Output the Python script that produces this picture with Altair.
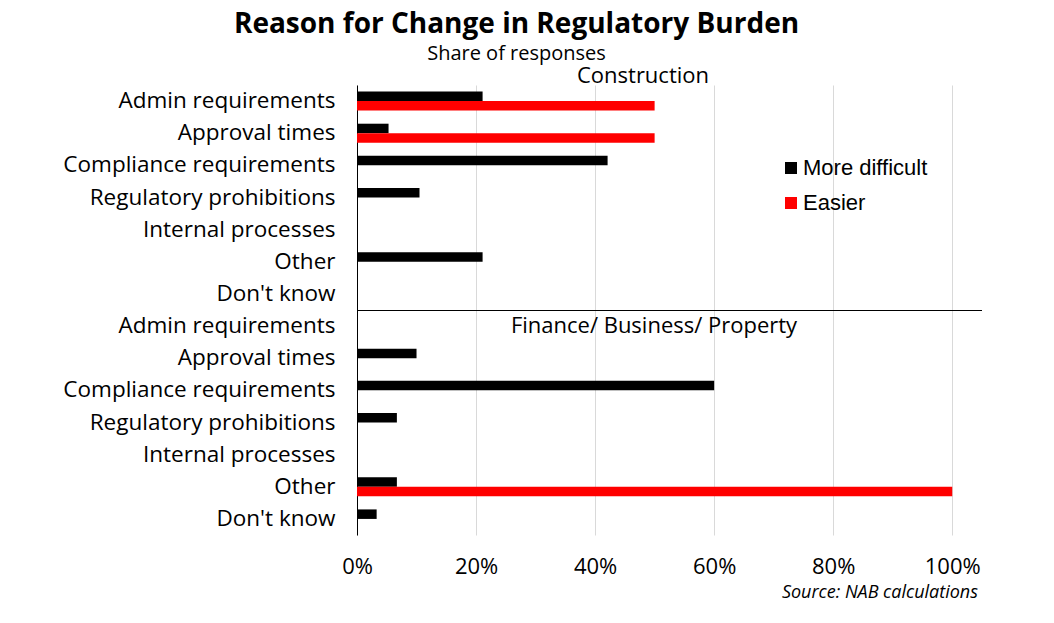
import altair as alt
import pandas as pd

# ---- data ----
categories = ["Admin requirements", "Approval times", "Compliance requirements",
              "Regulatory prohibitions", "Internal processes", "Other", "Don't know"]
sections = ["Construction", "Finance/ Business/ Property"]
series = ["More difficult", "Easier"]
construction_more = [21.1, 5.3, 42.1, 10.5, 0, 21.1, 0]
construction_easier = [50, 50, 0, 0, 0, 0, 0]
finance_more = [0, 10.0, 60.0, 6.7, 0, 6.7, 3.3]
finance_easier = [0, 0, 0, 0, 0, 100.0, 0]
x_ticks = [0, 0.2, 0.4, 0.6, 0.8, 1.0]

rows = []
for sec, more, easier in [(sections[0], construction_more, construction_easier),
                          (sections[1], finance_more, finance_easier)]:
    for cat, m, e in zip(categories, more, easier):
        key = f"{sec}|{cat}"
        rows.append(dict(row=key, series=series[0], value=m / 100))
        rows.append(dict(row=key, series=series[1], value=e / 100))
df = pd.DataFrame(rows)
row_keys = [f"{s}|{c}" for s in sections for c in categories]

W, H = 625, 450
FONT = "Open Sans"

bars = alt.Chart(df).mark_bar().encode(
    x=alt.X("value:Q",
            scale=alt.Scale(domain=[0, 1.05], nice=False),
            axis=alt.Axis(values=x_ticks, format=".0%", title=None, domain=False,
                          ticks=False, grid=True, gridColor="#d9d9d9", gridWidth=1,
                          labelFont=FONT, labelFontSize=22, labelColor="black",
                          labelPadding=21, labelFlush=False)),
    y=alt.Y("row:N",
            scale=alt.Scale(domain=row_keys, paddingInner=0, paddingOuter=0),
            axis=alt.Axis(title=None, labelExpr="split(datum.value, '|')[1]",
                          ticks=False, domain=True, domainColor="black", domainWidth=1,
                          labelFont=FONT, labelFontSize=22.5, labelColor="black",
                          labelPadding=22, grid=False, labelLimit=400)),
    yOffset=alt.YOffset("series:N",
                        scale=alt.Scale(domain=series, paddingOuter=0.69, paddingInner=0)),
    color=alt.Color("series:N",
                    scale=alt.Scale(domain=series, range=["#000000", "#ff0000"]),
                    legend=alt.Legend(orient="none", legendX=423, legendY=72, title=None,
                                      symbolType="square", symbolSize=144,
                                      symbolStrokeWidth=0, labelFont="Liberation Sans",
                                      labelFontSize=22, labelColor="black",
                                      rowPadding=13, labelOffset=1)),
)

divider = alt.Chart(pd.DataFrame({"d": [0]})).mark_rule(color="black", strokeWidth=1).encode(
    y=alt.value(H / 2 + 0.5), x=alt.value(0), x2=alt.value(W)
)

sec_df = pd.DataFrame({"label": sections, "px": [286, 297], "py": [-9, H / 2 + 16]})
sec_text = alt.Chart(sec_df).mark_text(font=FONT, fontSize=22, color="black",
                                       align="center", baseline="middle").encode(
    text="label:N", x=alt.X("px:Q", scale=None), y=alt.Y("py:Q", scale=None)
)

source = alt.Chart(pd.DataFrame({"s": ["Source: NAB calculations"]})).mark_text(
    font=FONT, fontSize=18, fontStyle="italic", color="black", align="right",
    baseline="middle").encode(text="s:N", x=alt.value(621), y=alt.value(508))

chart = alt.layer(bars, divider, sec_text, source).properties(
    width=W, height=H,
    title=alt.Title("Reason for Change in Regulatory Burden",
                    subtitle="Share of responses",
                    font=FONT, fontSize=28, fontWeight="bold", color="black",
                    subtitleFont=FONT, subtitleFontSize=20, subtitleColor="black",
                    anchor="middle", frame="group", dx=-153, offset=1,
                    subtitlePadding=5),
    padding={"left": 349, "top": 77, "right": 64, "bottom": 80},
    autosize=alt.AutoSizeParams(type="none"),
).configure_view(stroke=None)

chart.save("out.html", embed_options={"renderer": "svg", "actions": False})
